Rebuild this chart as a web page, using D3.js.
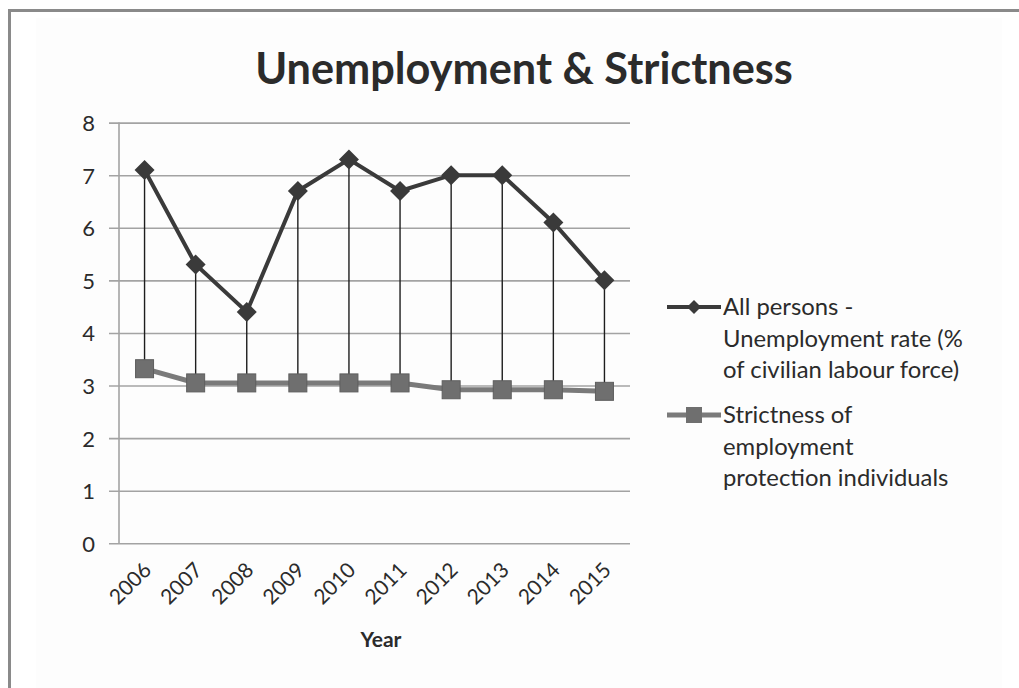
<!DOCTYPE html>
<html>
<head>
<meta charset="utf-8">
<script src="https://cdn.jsdelivr.net/npm/d3@7"></script>
<style>
  html, body { margin: 0; padding: 0; background: #ffffff; }
  svg { display: block; }
  text { font-family: Lato, "Open Sans", sans-serif; fill: #2b2b2b; }
</style>
</head>
<body>
<svg id="chart" width="1019" height="688"></svg>
<script>
// ---- data ----
const years = ["2006","2007","2008","2009","2010","2011","2012","2013","2014","2015"];
const unemployment = [7.1, 5.3, 4.4, 6.7, 7.3, 6.7, 7.0, 7.0, 6.1, 5.0];
const strictness = [3.32, 3.05, 3.05, 3.05, 3.05, 3.05, 2.92, 2.92, 2.92, 2.89];
const yTicks = [0, 1, 2, 3, 4, 5, 6, 7, 8];
const titleText = "Unemployment & Strictness";
const xAxisTitle = "Year";
const legendUnemp = ["All persons -", "Unemployment rate (%", "of civilian labour force)"];
const legendStrict = ["Strictness of", "employment", "protection individuals"];

// ---- layout ----
const svg = d3.select("#chart");
const plot = { left: 119, right: 630, top: 122.6, bottom: 543.3 };

// frame
svg.append("rect").attr("x", 0).attr("y", 0).attr("width", 1019).attr("height", 688).attr("fill", "#ffffff");
svg.append("rect").attr("x", 36).attr("y", 18).attr("width", 966).attr("height", 670).attr("fill", "#fdfdfd");
svg.append("line").attr("x1", 8).attr("x2", 1019).attr("y1", 10.5).attr("y2", 10.5)
  .attr("stroke", "#8a8a8a").attr("stroke-width", 3);
svg.append("line").attr("x1", 9.5).attr("x2", 9.5).attr("y1", 9).attr("y2", 688)
  .attr("stroke", "#8a8a8a").attr("stroke-width", 3);

const x = d3.scaleBand().domain(years).range([plot.left, plot.right]).paddingInner(0).paddingOuter(0);
const xc = d => x(d) + x.bandwidth() / 2;
const y = d3.scaleLinear().domain([0, 8]).range([plot.bottom, plot.top]);

// gridlines + y axis
const yAxis = d3.axisLeft(y).tickValues(yTicks).tickSize(-(plot.right - plot.left)).tickPadding(0);
const gy = svg.append("g").attr("transform", `translate(${plot.left},0)`).call(yAxis);
gy.select(".domain").remove();
gy.selectAll(".tick line").attr("stroke", "#a3a3a3").attr("stroke-width", 1.6).attr("x1", -10);
gy.selectAll(".tick text").attr("x", -24).attr("dy", "0.36em")
  .style("font-size", "22px").style("font-family", "Lato, sans-serif").attr("fill", "#2b2b2b");

// vertical axis line
svg.append("line").attr("x1", plot.left).attr("x2", plot.left).attr("y1", plot.top).attr("y2", plot.bottom)
  .attr("stroke", "#a3a3a3").attr("stroke-width", 1.6);

// x axis labels
const xAxis = d3.axisBottom(x).tickSize(0).tickPadding(0);
const gx = svg.append("g").attr("transform", `translate(0,${plot.bottom})`).call(xAxis);
gx.select(".domain").remove();
gx.selectAll(".tick text")
  .attr("text-anchor", "end")
  .attr("dy", 0)
  .attr("transform", "translate(8,28) rotate(-45)")
  .style("font-size", "21px").style("font-family", "Lato, sans-serif").attr("fill", "#2b2b2b");

// x axis title
svg.append("text").attr("x", 381).attr("y", 647).attr("text-anchor", "middle")
  .style("font-size", "21px").style("font-weight", "bold").text(xAxisTitle);

// high-low lines
svg.append("g").selectAll("line").data(years).join("line")
  .attr("x1", d => xc(d)).attr("x2", d => xc(d))
  .attr("y1", (d, i) => y(Math.max(unemployment[i], strictness[i])))
  .attr("y2", (d, i) => y(Math.min(unemployment[i], strictness[i])))
  .attr("stroke", "#1e1e1e").attr("stroke-width", 1.4);

// strictness series
const line = d3.line().x(d => xc(d.year)).y(d => y(d.v));
const sData = years.map((yr, i) => ({ year: yr, v: strictness[i] }));
const uData = years.map((yr, i) => ({ year: yr, v: unemployment[i] }));

svg.append("path").datum(sData).attr("d", line).attr("fill", "none")
  .attr("stroke", "#7a7a7a").attr("stroke-width", 5);
const sq = 18;
svg.append("g").selectAll("rect").data(sData).join("rect")
  .attr("x", d => xc(d.year) - sq / 2).attr("y", d => y(d.v) - sq / 2)
  .attr("width", sq).attr("height", sq)
  .attr("fill", "#6f6f6f").attr("stroke", "#5e5e5e").attr("stroke-width", 1);

// unemployment series
svg.append("path").datum(uData).attr("d", line).attr("fill", "none")
  .attr("stroke", "#3a3a3a").attr("stroke-width", 4);
const dm = 10;
const diamond = (cx, cy, r) => `M${cx},${cy - r}L${cx + r},${cy}L${cx},${cy + r}L${cx - r},${cy}Z`;
svg.append("g").selectAll("path").data(uData).join("path")
  .attr("d", d => diamond(xc(d.year), y(d.v), dm))
  .attr("fill", "#3a3a3a");

// title
const title = svg.append("text").attr("x", 524).attr("y", 84).attr("text-anchor", "middle")
  .style("font-size", "40px").style("font-weight", "bold").attr("fill", "#1e1e1e").text(titleText);
const tw = title.node().getComputedTextLength();
title.style("font-size", (40 * 538 / tw) + "px");

// legend font size fitted to reference width of the widest first-entry line
const probe = svg.append("text").style("font-size", "20px").text(legendUnemp[1]);
const legendFont = 20 * 240 / probe.node().getComputedTextLength();
probe.remove();

const lg = svg.append("g");
function legendEntry(cy, lines, kind) {
  lg.append("line").attr("x1", 667).attr("x2", 721).attr("y1", cy).attr("y2", cy)
    .attr("stroke", kind === "u" ? "#3a3a3a" : "#7a7a7a").attr("stroke-width", kind === "u" ? 4 : 5);
  if (kind === "u") {
    lg.append("path").attr("d", diamond(694, cy, 7)).attr("fill", "#3a3a3a");
  } else {
    lg.append("rect").attr("x", 694 - 8).attr("y", cy - 8).attr("width", 16).attr("height", 16)
      .attr("fill", "#6f6f6f");
  }
  lines.forEach((t, i) => {
    lg.append("text").attr("x", 723).attr("y", cy + 8 + i * 31.5)
      .style("font-size", legendFont + "px").attr("fill", "#2b2b2b").text(t);
  });
}
legendEntry(307, legendUnemp, "u");
legendEntry(415, legendStrict, "s");
</script>
</body>
</html>
